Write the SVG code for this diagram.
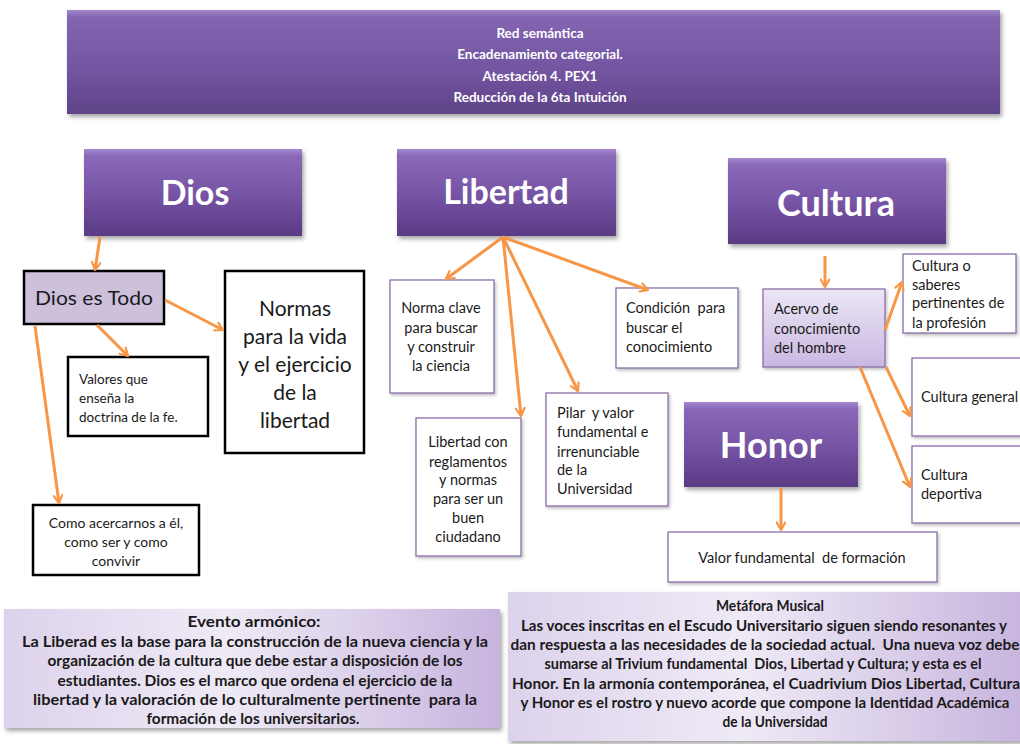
<svg xmlns="http://www.w3.org/2000/svg" width="1020" height="744" viewBox="0 0 1020 744">
<defs>
<linearGradient id="gHead" x1="0" y1="0" x2="0" y2="1">
<stop offset="0" stop-color="#a58ad0"/>
<stop offset="0.08" stop-color="#8a68b8"/>
<stop offset="0.55" stop-color="#7552a3"/>
<stop offset="1" stop-color="#5a3a84"/>
</linearGradient>
<linearGradient id="gTitle" x1="0" y1="0" x2="0" y2="1">
<stop offset="0" stop-color="#a287cc"/>
<stop offset="0.07" stop-color="#8365b2"/>
<stop offset="0.6" stop-color="#7254a0"/>
<stop offset="1" stop-color="#5e4388"/>
</linearGradient>
<linearGradient id="gLav" x1="0" y1="0" x2="0" y2="1">
<stop offset="0" stop-color="#ece6f5"/>
<stop offset="1" stop-color="#c9b8e1"/>
</linearGradient>
<linearGradient id="gBottom" x1="0" y1="0" x2="1" y2="0">
<stop offset="0" stop-color="#ddd2ec"/>
<stop offset="0.45" stop-color="#efeaf6"/>
<stop offset="1" stop-color="#c7b4de"/>
</linearGradient>
<filter id="sh" x="-10%" y="-10%" width="125%" height="130%">
<feDropShadow dx="2" dy="3" stdDeviation="2" flood-color="#000" flood-opacity="0.35"/>
</filter>
<filter id="shs" x="-10%" y="-10%" width="125%" height="130%">
<feDropShadow dx="1.5" dy="2" stdDeviation="1.5" flood-color="#000" flood-opacity="0.25"/>
</filter>
<marker id="ah" viewBox="0 0 10 10" refX="8.5" refY="5" markerWidth="3.6" markerHeight="3.6" orient="auto" markerUnits="strokeWidth">
<path d="M1.5,1 L8.5,5 L1.5,9" fill="none" stroke="#f79646" stroke-width="2" stroke-linecap="round" stroke-linejoin="round"/>
</marker>
</defs>
<style>
text{font-family:Lato,"Liberation Sans","DejaVu Sans",sans-serif;fill:#1a1a1a}
.head{fill:url(#gHead);filter:url(#sh)}
.ht{fill:#ffffff;font-weight:bold;text-anchor:middle}
.tt{fill:#ffffff;font-weight:bold;font-size:13.5px;text-anchor:middle}
.blk{fill:#ffffff;stroke:#000;stroke-width:2.5}
.thin{fill:#ffffff;stroke:#8064a2;stroke-width:1.2;filter:url(#shs)}
.s{font-size:14.5px}
.c{text-anchor:middle}
.bt{font-weight:bold;font-size:14.5px;text-anchor:middle}
.conn path{fill:none;stroke:#f79646;stroke-width:3;marker-end:url(#ah)}
</style>
<rect width="1020" height="744" fill="#ffffff"/>

<g id="title">
<rect x="67" y="10" width="933" height="104" fill="url(#gTitle)" filter="url(#sh)"/>
<text class="tt" x="540" y="38">Red semántica</text>
<text class="tt" x="540" y="59">Encadenamiento categorial.</text>
<text class="tt" x="540" y="81">Atestación 4. PEX1</text>
<text class="tt" x="540" y="102">Reducción de la 6ta Intuición</text>
</g>

<g id="dios">
<rect class="head" x="84" y="149" width="218" height="87"/>
<text class="ht" x="195" y="205" font-size="34">Dios</text>
</g>
<g id="libertad">
<rect class="head" x="397" y="149" width="219" height="87"/>
<text class="ht" x="506" y="204" font-size="34">Libertad</text>
</g>
<g id="cultura">
<rect class="head" x="728" y="158" width="218" height="86"/>
<text class="ht" x="836" y="216" font-size="36">Cultura</text>
</g>
<g id="honor">
<rect class="head" x="684" y="402" width="174" height="85"/>
<text class="ht" x="771" y="458" font-size="36">Honor</text>
</g>

<g id="dios-es-todo">
<rect x="24" y="271" width="140" height="53" fill="#ccc0da" stroke="#000" stroke-width="2.5"/>
<text x="94" y="305" font-size="19.5" text-anchor="middle" textLength="118" lengthAdjust="spacingAndGlyphs">Dios es Todo</text>
</g>
<g id="normas">
<rect class="blk" x="225" y="271" width="139" height="182"/>
<text class="c" x="295" y="316" font-size="21">Normas</text>
<text class="c" x="295" y="344" font-size="21">para la vida</text>
<text class="c" x="295" y="372" font-size="21">y el ejercicio</text>
<text class="c" x="295" y="400" font-size="21">de la</text>
<text class="c" x="295" y="428" font-size="21">libertad</text>
</g>
<g id="valores">
<rect class="blk" x="68" y="357" width="140" height="79"/>
<text x="79" y="384" font-size="13.5">Valores que</text>
<text x="79" y="403" font-size="13.5">enseña la</text>
<text x="79" y="422" font-size="13.5">doctrina de la fe.</text>
</g>
<g id="como">
<rect class="blk" x="33" y="505" width="166" height="70"/>
<text class="c" x="116" y="528" font-size="14">Como acercarnos a él,</text>
<text class="c" x="116" y="547" font-size="14">como ser y como</text>
<text class="c" x="116" y="566" font-size="14">convivir</text>
</g>

<g id="norma-clave">
<rect class="thin" x="390" y="280" width="104" height="113"/>
<text class="s c" x="441" y="313">Norma clave</text>
<text class="s c" x="441" y="333">para buscar</text>
<text class="s c" x="441" y="352">y construir</text>
<text class="s c" x="441" y="371">la ciencia</text>
</g>
<g id="libertad-con">
<rect class="thin" x="416" y="418" width="105" height="138"/>
<text class="s c" x="468" y="447">Libertad con</text>
<text class="s c" x="468" y="467">reglamentos</text>
<text class="s c" x="468" y="485">y normas</text>
<text class="s c" x="468" y="504">para ser un</text>
<text class="s c" x="468" y="523">buen</text>
<text class="s c" x="468" y="542">ciudadano</text>
</g>
<g id="pilar">
<rect class="thin" x="546" y="393" width="122" height="113"/>
<text class="s" x="557" y="418" xml:space="preserve">Pilar  y valor</text>
<text class="s" x="557" y="437">fundamental e</text>
<text class="s" x="557" y="457">irrenunciable</text>
<text class="s" x="557" y="475">de la</text>
<text class="s" x="557" y="494">Universidad</text>
</g>
<g id="condicion">
<rect class="thin" x="616" y="288" width="122" height="80"/>
<text class="s" x="626" y="313" xml:space="preserve">Condición  para</text>
<text class="s" x="626" y="333">buscar el</text>
<text class="s" x="626" y="352">conocimiento</text>
</g>

<g id="acervo">
<rect x="763" y="289" width="122" height="78" fill="url(#gLav)" stroke="#8064a2" stroke-width="1.2" filter="url(#shs)"/>
<text class="s" x="774" y="314">Acervo de</text>
<text class="s" x="774" y="334">conocimiento</text>
<text class="s" x="774" y="353">del hombre</text>
</g>
<g id="cultura-o">
<rect class="thin" x="903" y="254" width="113" height="79"/>
<text class="s" x="912" y="271">Cultura o</text>
<text class="s" x="912" y="290">saberes</text>
<text class="s" x="912" y="308">pertinentes de</text>
<text class="s" x="912" y="328">la profesión</text>
</g>
<g id="cultura-general">
<rect class="thin" x="912" y="358" width="112" height="78"/>
<text class="s" x="921" y="402">Cultura general</text>
</g>
<g id="cultura-deportiva">
<rect class="thin" x="912" y="446" width="112" height="77"/>
<text class="s" x="921" y="480">Cultura</text>
<text class="s" x="921" y="499">deportiva</text>
</g>
<g id="valor-fundamental">
<rect class="thin" x="668" y="532" width="269" height="50"/>
<text class="s c" x="802" y="563" xml:space="preserve">Valor fundamental  de formación</text>
</g>

<g id="evento">
<rect x="4" y="609" width="496" height="119" fill="url(#gBottom)" filter="url(#sh)"/>
<text class="bt" x="254" y="627" textLength="133" lengthAdjust="spacingAndGlyphs">Evento armónico:</text>
<text class="bt" x="255" y="647" textLength="466" lengthAdjust="spacingAndGlyphs">La Liberad es la base para la construcción de la nueva ciencia y la</text>
<text class="bt" x="255" y="666" textLength="415" lengthAdjust="spacingAndGlyphs">organización de la cultura que debe estar a disposición de los</text>
<text class="bt" x="255" y="686" textLength="395" lengthAdjust="spacingAndGlyphs">estudiantes. Dios es el marco que ordena el ejercicio de la</text>
<text class="bt" x="255" y="705" textLength="444" lengthAdjust="spacingAndGlyphs" xml:space="preserve">libertad y la valoración de lo culturalmente pertinente  para la</text>
<text class="bt" x="253" y="724" textLength="213" lengthAdjust="spacingAndGlyphs">formación de los universitarios.</text>
</g>

<g id="metafora">
<rect x="508" y="592" width="520" height="149" fill="url(#gBottom)" filter="url(#sh)"/>
<text class="bt" x="770" y="611" font-size="13.5" textLength="108" lengthAdjust="spacingAndGlyphs">Metáfora Musical</text>
<text class="bt" x="764" y="631" textLength="486" lengthAdjust="spacingAndGlyphs">Las voces inscritas en el Escudo Universitario siguen siendo resonantes y</text>
<text class="bt" x="765" y="650" textLength="509" lengthAdjust="spacingAndGlyphs" xml:space="preserve">dan respuesta a las necesidades de la sociedad actual.  Una nueva voz debe</text>
<text class="bt" x="763" y="669" textLength="437" lengthAdjust="spacingAndGlyphs" xml:space="preserve">sumarse al Trivium fundamental  Dios, Libertad y Cultura; y esta es el</text>
<text class="bt" x="766" y="689" textLength="508" lengthAdjust="spacingAndGlyphs">Honor. En la armonía contemporánea, el Cuadrivium Dios Libertad, Cultura</text>
<text class="bt" x="765" y="708" textLength="489" lengthAdjust="spacingAndGlyphs">y Honor es el rostro y nuevo acorde que compone la Identidad Académica</text>
<text class="bt" x="775" y="727" textLength="105" lengthAdjust="spacingAndGlyphs">de la Universidad</text>
</g>

<g id="connectors" class="conn">
<path d="M100,237 L95,270"/>
<path d="M165,300 L223,330"/>
<path d="M97,325 L128,356"/>
<path d="M35,326 L59,503"/>
<path d="M503,237 L446,279"/>
<path d="M503,237 L521,416"/>
<path d="M503,237 L578,391"/>
<path d="M503,237 L648,290"/>
<path d="M825,256 L825,287"/>
<path d="M885,330 L902,282"/>
<path d="M886,367 L910,416"/>
<path d="M860,367 L910,487"/>
<path d="M781,488 L781,530"/>
</g>
</svg>
